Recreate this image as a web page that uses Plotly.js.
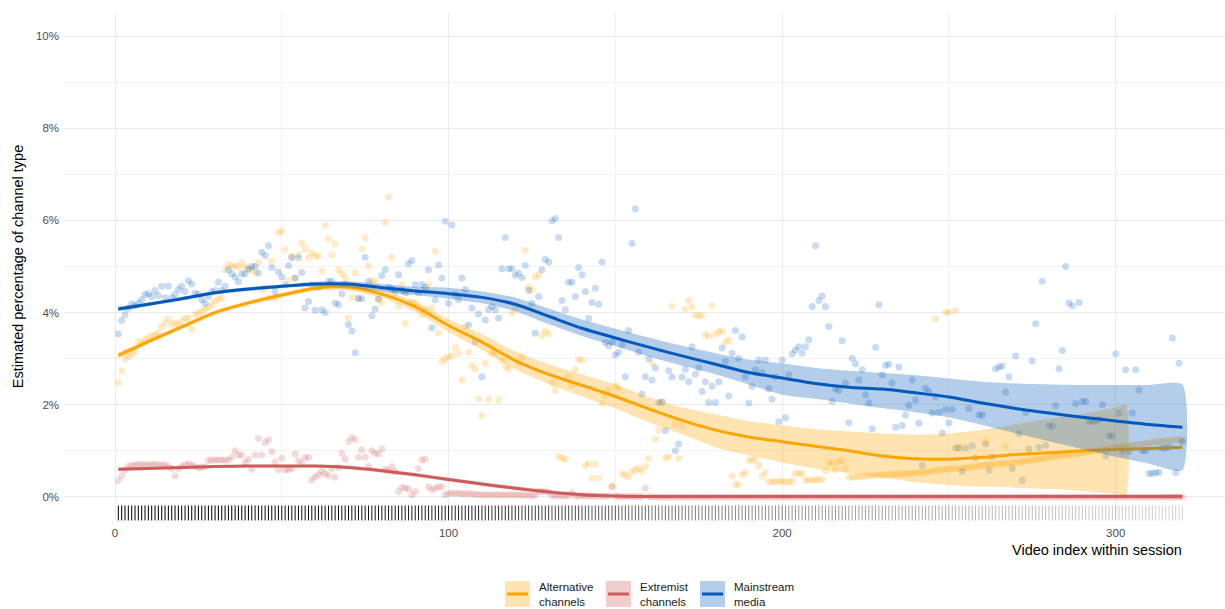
<!DOCTYPE html>
<html><head><meta charset="utf-8">
<script src="https://cdn.plot.ly/plotly-3.0.1.min.js"></script>
<style>html,body{margin:0;padding:0;background:#fff;overflow:hidden}</style>
</head><body><div id="chart" style="width:1225px;height:609px"></div>
<script>
// ---------- data (percent values) ----------
const seriesNames = ["Alternative<br>channels", "Extremist<br>channels", "Mainstream<br>media"];

const orangeVals = [
2.49,2.74,2.98,3.05,3.09,3.15,3.38,3.35,3.42,3.45,
3.50,3.52,3.56,3.70,3.78,3.86,3.74,3.78,3.74,3.81,
3.88,3.88,3.63,3.96,3.99,4.03,4.08,4.12,4.17,4.25,
4.30,4.32,4.93,5.05,5.00,5.01,5.00,5.09,5.00,4.93,
4.93,4.86,5.08,4.50,4.55,4.32,5.12,4.32,5.73,5.77,
5.37,4.70,5.22,4.75,5.26,5.51,5.38,5.19,5.30,5.23,
5.23,4.90,5.89,5.60,5.25,5.50,4.93,4.84,4.75,3.88,
4.32,4.86,4.32,5.38,5.62,5.01,4.70,4.66,4.28,4.21,
5.96,6.51,5.20,4.50,4.14,4.61,3.77,4.43,4.22,4.22,
4.10,3.95,4.08,4.61,4.10,5.33,3.56,2.94,3.00,3.04,
3.07,3.24,3.12,2.54,3.70,3.14,2.85,2.77,2.13,1.76,
2.90,2.12,3.12,3.12,2.11,2.97,2.84,2.77,3.99,4.10,
2.90,3.04,5.35,4.55,4.49,4.77,4.82,3.50,3.60,3.54,
2.48,2.31,0.88,0.84,0.82,2.60,2.43,2.76,2.99,2.96,
0.68,0.73,0.41,0.71,0.41,2.02,2.20,2.32,0.24,2.41,
2.36,0.51,0.48,0.44,0.55,0.59,0.62,0.55,0.66,0.84,
2.90,1.25,1.45,2.07,0.84,0.88,4.13,1.60,0.84,1.53,
4.07,4.26,4.12,3.95,3.92,3.95,3.53,3.48,4.15,3.53,
3.59,3.60,3.35,3.41,0.46,0.27,0.27,0.48,0.53,0.79,
0.81,0.79,0.67,0.45,0.53,0.33,0.33,0.33,0.34,0.34,
0.33,0.33,0.34,0.51,0.51,0.51,0.36,0.37,0.37,0.38,
0.38,0.38,0.57,0.74,0.74,0.59,0.77,0.79,0.61,0.43,
0.43,0.44,0.44,0.45,0.45,0.46,0.46,0.47,0.48,0.48,
0.48,0.49,0.49,0.49,0.50,0.50,0.51,0.51,0.52,0.52,
0.53,0.53,0.54,0.55,0.56,0.57,0.58,0.59,0.60,0.60,
0.61,0.61,0.62,0.63,0.63,0.64,0.65,0.66,0.67,0.68,
0.69,0.70,0.70,0.71,0.72,0.72,0.73,0.73,0.74,0.75,
0.76,0.77,0.78,0.79,0.80,0.81,0.82,0.83,0.84,0.86,
0.87,0.88,0.89,0.90,0.90,0.91,0.92,0.93,0.95,0.96,
0.97,0.98,0.99,1.00,1.01,1.02,1.03,1.05,1.06,1.07,
1.08,1.09,1.10,1.11,1.12,1.13,1.14,1.15,1.16,1.17,
1.18,1.19,1.20,1.21,1.22,1.23,1.23,1.24,1.24,1.24
];

const redVals = [
0.35,0.46,0.59,0.66,0.68,0.70,0.70,0.71,0.70,0.70,
0.70,0.71,0.70,0.69,0.70,0.66,0.62,0.46,0.62,0.66,
0.70,0.72,0.69,0.66,0.63,0.65,0.65,0.79,0.80,0.80,
0.80,0.80,0.80,0.80,0.86,1.00,0.91,0.91,0.75,0.81,
0.60,0.91,1.27,0.91,1.18,1.24,0.98,0.76,0.59,0.84,
0.59,0.59,0.62,0.93,0.79,0.73,0.85,0.86,0.37,0.44,
0.48,0.55,0.51,0.46,0.62,0.43,0.64,0.95,0.82,1.20,
1.29,1.24,0.86,1.02,0.86,0.66,1.00,0.95,0.93,1.04,
0.60,0.57,0.66,0.55,0.12,0.21,0.19,0.17,0.04,0.12,
0.62,0.80,0.82,0.22,0.15,0.19,0.22,0.22,0.04,0.08,
0.08,0.08,0.08,0.07,0.06,0.08,0.06,0.06,0.05,0.05,
0.05,0.05,0.05,0.04,0.05,0.04,0.04,0.05,0.04,0.04,
0.04,0.04,0.04,0.03,0.03,0.03,0.12,0.12,0.12,0.10,
0.03,0.03,0.03,0.02,0.02,0.03,0.09,0.02,0.02,0.02,
0.02,0.02,0.02,0.02,0.02,0.02,0.02,0.02,0.22,0.02,
0.01,0.01,0.01,0.01,0.01,0.01,0.01,0.01,0.19,0.01,
0,0,0,0,0,0,0,0,0,0, 0,0,0,0,0,0,0,0,0,0,
0,0,0,0,0,0,0,0,0,0, 0,0,0,0,0,0,0,0,0,0,
0,0,0,0,0,0,0,0,0,0, 0,0,0,0,0,0,0,0,0,0,
0,0,0,0,0,0,0,0,0,0, 0,0,0,0,0,0,0,0,0,0,
0,0,0,0,0,0,0,0,0,0, 0,0,0,0,0,0,0,0,0,0,
0,0,0,0,0,0,0,0,0,0, 0,0,0,0,0,0,0,0,0,0,
0,0,0,0,0,0,0,0,0,0, 0,0,0,0,0,0,0,0,0,0,
0,0,0,0,0,0,0,0,0,0, 0,0,0,0,0,0,0,0,0,0
];

const blueVals = [
3.54,3.83,3.96,4.10,4.19,4.15,4.21,4.28,4.39,4.41,
4.35,4.48,4.37,4.57,4.32,4.57,4.32,4.39,4.50,4.57,
4.46,4.69,4.62,4.42,4.40,4.28,4.20,4.35,4.45,4.48,
4.66,4.48,4.57,4.93,4.84,4.77,4.67,4.84,4.84,4.95,
5.00,5.00,4.86,5.31,5.24,5.45,4.98,4.46,4.88,4.77,
4.60,5.02,5.19,4.75,5.19,4.87,4.10,4.24,4.60,4.05,
4.55,4.06,4.00,4.68,4.68,4.21,4.17,4.41,4.62,3.74,
3.60,3.13,4.30,4.30,5.20,4.67,3.93,4.08,4.30,4.80,
4.93,4.55,4.51,4.45,4.82,4.48,4.43,5.06,5.13,4.61,
4.43,4.61,4.55,4.93,3.67,4.28,5.03,4.75,5.98,4.20,
5.90,4.40,4.28,4.75,4.50,3.73,4.10,3.37,3.97,2.61,
3.84,4.07,4.13,4.06,3.88,4.95,5.63,4.95,4.95,4.81,
4.86,4.76,5.02,4.48,4.20,3.55,4.35,4.93,5.15,5.10,
5.99,6.04,5.63,4.26,4.06,4.66,4.66,4.35,4.98,4.82,
4.46,3.87,4.22,4.53,4.18,5.10,3.35,3.28,3.37,3.08,
3.14,3.30,2.61,3.61,5.50,6.25,3.14,2.23,2.61,3.00,
2.54,2.80,2.05,2.05,1.44,2.74,2.60,1.00,1.15,2.60,
2.77,2.50,3.26,2.66,2.80,2.29,2.50,2.05,2.40,2.05,
2.50,3.23,2.94,2.19,3.12,3.61,3.01,3.47,2.61,2.04,
2.40,2.76,2.97,2.70,2.97,2.35,2.12,2.61,1.63,2.97,
1.72,2.65,3.10,3.19,3.26,3.12,3.26,3.41,4.13,5.45,
4.26,4.36,4.13,3.70,2.07,2.34,2.31,3.39,2.47,1.61,
3.01,2.89,2.54,2.76,2.22,2.04,1.48,3.24,4.17,2.65,
2.86,2.88,2.47,1.51,2.82,1.55,1.78,1.99,2.54,2.10,
1.60,0.69,2.36,2.29,1.82,2.18,1.84,1.39,1.90,1.61,
1.90,1.06,1.06,0.55,1.06,1.92,1.11,0.85,1.78,1.78,
1.15,0.58,0.87,2.78,2.82,2.84,2.27,2.61,0.62,3.06,
1.37,0.36,1.83,1.04,2.95,3.76,1.08,4.68,1.12,1.54,
1.54,1.98,2.78,3.18,5.00,4.21,4.15,2.03,4.22,2.07,
2.07,1.64,1.64,1.64,1.68,2.00,0.89,1.33,1.33,3.10,
1.82,0.99,2.76,0.99,1.82,2.76,2.32,1.00,1.00,0.51,
0.51,0.53,0.53,1.06,1.06,1.09,3.45,0.53,2.90,1.20
];

// a few extra alternative-channel points sitting above the late band
const orangeExtraX = [246, 249, 250, 252, 253, 261, 267];
const orangeExtraY = [3.86, 4.01, 4.01, 4.05, 1.09, 1.22, 1.11];

// smoothed trends (knots)
const smoothX = [1,10,20,30,40,50,60,70,80,90,100,110,120,130,140,150,160,170,180,190,200,210,220,230,240,250,260,270,280,290,300,310,320];
const orangeFit = [3.07,3.37,3.69,4.00,4.21,4.38,4.53,4.55,4.40,4.13,3.72,3.36,2.96,2.66,2.42,2.18,1.91,1.66,1.45,1.30,1.20,1.10,1.00,0.89,0.83,0.82,0.86,0.92,0.96,1.00,1.03,1.05,1.08];
const redFit    = [0.60,0.62,0.64,0.66,0.67,0.67,0.67,0.64,0.57,0.48,0.38,0.28,0.19,0.11,0.05,0.02,0.01,0.01,0.01,0.01,0.01,0.01,0.01,0.01,0.01,0.01,0.01,0.01,0.01,0.01,0.01,0.01,0.01];
const blueFit   = [4.08,4.18,4.30,4.43,4.51,4.57,4.62,4.62,4.54,4.47,4.41,4.33,4.18,3.92,3.66,3.45,3.25,3.06,2.88,2.70,2.58,2.46,2.38,2.34,2.26,2.17,2.04,1.92,1.82,1.73,1.65,1.57,1.51];

const blueUpper = [4.13,4.22,4.34,4.47,4.55,4.61,4.67,4.68,4.62,4.56,4.54,4.46,4.33,4.09,3.85,3.65,3.46,3.28,3.12,2.98,2.90,2.80,2.74,2.69,2.64,2.57,2.50,2.46,2.44,2.43,2.43,2.43,2.44];
const blueLower = [4.03,4.14,4.26,4.39,4.47,4.53,4.57,4.55,4.46,4.38,4.30,4.20,4.03,3.75,3.49,3.27,3.05,2.85,2.66,2.44,2.22,2.13,2.03,1.93,1.84,1.73,1.56,1.38,1.21,1.04,0.87,0.72,0.58];
const redUpper  = [0.64,0.65,0.67,0.69,0.70,0.70,0.70,0.68,0.61,0.52,0.42,0.32,0.23,0.15,0.09,0.05,0.04,0.04,0.04,0.04,0.04,0.04,0.04,0.04,0.04,0.04,0.04,0.04,0.04,0.04,0.04,0.04,0.04];
const redLower  = [0.56,0.59,0.61,0.63,0.64,0.64,0.64,0.60,0.53,0.44,0.34,0.24,0.15,0.07,0.01,-0.01,-0.02,-0.02,-0.02,-0.02,-0.02,-0.02,-0.02,-0.02,-0.02,-0.02,-0.02,-0.02,-0.02,-0.02,-0.02,-0.02,-0.02];

const orangeBandX = [1,10,20,30,40,50,60,70,80,90,100,110,120,130,140,150,160,170,180,190,200,210,220,230,240,250,260,270,280,290,300,303];
const orangeUpper = [3.14,3.42,3.74,4.05,4.26,4.43,4.59,4.62,4.49,4.24,3.86,3.53,3.16,2.88,2.66,2.44,2.17,1.94,1.79,1.65,1.55,1.47,1.42,1.38,1.35,1.38,1.46,1.58,1.69,1.80,1.94,2.00];
const orangeLower = [3.00,3.32,3.64,3.95,4.16,4.33,4.47,4.48,4.31,4.02,3.58,3.19,2.77,2.45,2.18,1.92,1.62,1.36,1.08,0.90,0.75,0.62,0.52,0.42,0.32,0.26,0.22,0.20,0.17,0.13,0.07,0.04];

// rug opacity, one value per block of 10 video indices
const rugAlpha = [1,1,1,1,0.97,0.95,0.95,0.92,0.9,0.88,0.85,0.8,0.75,0.7,0.65,0.6,0.55,0.5,0.48,0.45,0.42,0.4,0.37,0.35,0.33,0.3,0.28,0.26,0.24,0.22,0.2,0.18];

// ---------- styles ----------
const lineColors = ["#FFA500", "#CD5C5C", "#0359BB"];
function rgba(hex, a){const n=parseInt(hex.slice(1),16);return `rgba(${(n>>16)&255},${(n>>8)&255},${n&255},${a})`;}

const xIdx = orangeVals.map((_, i) => i + 1);
const valsList = [orangeVals, redVals, blueVals];
const fits = [orangeFit, redFit, blueFit];
const bandX = [orangeBandX, smoothX, smoothX];
const uppers = [orangeUpper, redUpper, blueUpper];
const lowers = [orangeLower, redLower, blueLower];

const traces = [];
// points
valsList.forEach((v, k) => {
  traces.push({type:"scatter", mode:"markers", x:xIdx, y:v, hoverinfo:"skip", showlegend:false,
    marker:{size:7, color:rgba(lineColors[k],0.22), line:{width:0}}});
});
traces.push({type:"scatter", mode:"markers", x:orangeExtraX, y:orangeExtraY, hoverinfo:"skip", showlegend:false,
  marker:{size:7, color:rgba(lineColors[0],0.22), line:{width:0}}});
// ribbons + lines per group
fits.forEach((f, k) => {
  const bx = bandX[k];
  traces.push({type:"scatter", mode:"lines", x:bx.concat(bx.slice().reverse()),
    y:uppers[k].concat(lowers[k].slice().reverse()), fill:"toself",
    fillcolor:rgba(lineColors[k],0.3), line:{width:0, shape:"spline", smoothing:0.6},
    hoverinfo:"skip", showlegend:false});
  traces.push({type:"scatter", mode:"lines", x:smoothX, y:f,
    line:{color:lineColors[k], width:3, shape:"spline", smoothing:0.8}, hoverinfo:"skip", showlegend:false});
});
// rug
const rugColors = xIdx.map((x) => `rgba(0,0,0,${rugAlpha[Math.floor((x-1)/10)]})`);
traces.push({type:"scatter", mode:"markers", x:xIdx, y:xIdx.map(() => -0.347), hoverinfo:"skip", showlegend:false,
  marker:{symbol:"line-ns-open", size:10.7, color:rugColors, line:{width:1, color:rugColors}}, cliponaxis:false});

// ---------- layout ----------
const W = 1225, H = 609, L = 64, R = 0, T = 13, B = 89;
const pw = W - L - R, ph = H - T - B;
const px2x = (p) => (p - L) / pw;
const px2y = (p) => (H - B - p) / ph;

const legendLeft = [505, 606, 700];
const shapes = [], annotations = [];
seriesNames.forEach((name, k) => {
  const x0 = legendLeft[k];
  shapes.push({type:"rect", xref:"paper", yref:"paper", x0:px2x(x0), x1:px2x(x0+25), y0:px2y(607), y1:px2y(581),
    fillcolor:rgba(lineColors[k],0.3), line:{width:0}, layer:"above"});
  shapes.push({type:"line", xref:"paper", yref:"paper", x0:px2x(x0+2), x1:px2x(x0+23), y0:px2y(594), y1:px2y(594),
    line:{color:lineColors[k], width:3}, layer:"above"});
  annotations.push({xref:"paper", yref:"paper", x:px2x(x0+32), y:px2y(594.5), xanchor:"left", yanchor:"middle",
    align:"left", showarrow:false, text:name, font:{family:"Liberation Sans, Arial, sans-serif", size:11.5, color:"#1a1a1a"}});
});
annotations.push({xref:"paper", yref:"paper", x:px2x(1184), y:px2y(550), xanchor:"right", yanchor:"middle",
  showarrow:false, text:"Video index within session", font:{family:"Liberation Sans, Arial, sans-serif", size:14.5, color:"#000"}});

const layout = {
  width:W, height:H, margin:{l:L, r:R, t:T, b:B}, paper_bgcolor:"#fff", plot_bgcolor:"#fff",
  font:{family:"Liberation Sans, Arial, sans-serif"}, showlegend:false,
  xaxis:{range:[-15.29, 332.77], tick0:0, dtick:100, zeroline:false, showline:false, ticks:"",
    gridcolor:"#EBEBEB", gridwidth:1, tickfont:{size:11.5, color:"#4D4D4D"}, ticklabelstandoff:4,
    minor:{dtick:50, tick0:0, showgrid:true, gridcolor:"#F2F2F2", gridwidth:1}},
  yaxis:{range:[-0.5, 10.5], tick0:0, dtick:2, ticksuffix:"%", zeroline:false, showline:false, ticks:"",
    gridcolor:"#EBEBEB", gridwidth:1, tickfont:{size:11.5, color:"#4D4D4D"}, ticklabelstandoff:4,
    minor:{dtick:1, tick0:0, showgrid:true, gridcolor:"#F2F2F2", gridwidth:1},
    title:{text:"Estimated percentage of channel type", standoff:8, font:{size:14.5, color:"#000"}}},
  shapes:shapes, annotations:annotations
};

Plotly.newPlot("chart", traces, layout, {staticPlot:true, displayModeBar:false});
</script></body></html>
